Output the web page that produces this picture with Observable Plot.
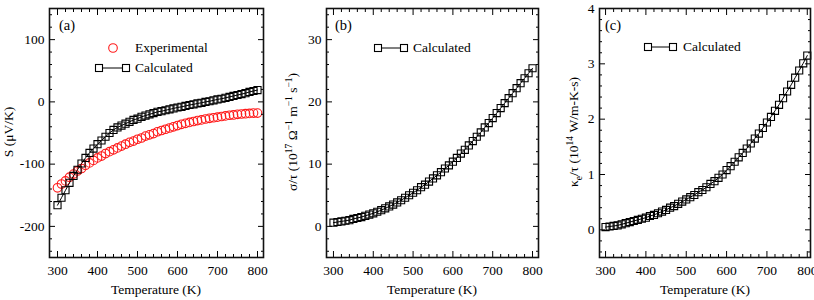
<!DOCTYPE html>
<html><head><meta charset="utf-8">
<script src="https://cdn.jsdelivr.net/npm/d3@7"></script>
<script src="https://cdn.jsdelivr.net/npm/@observablehq/plot@0.6"></script>
<style>
body{margin:0;background:#fff;font-family:'Liberation Serif',serif;color:#000}
#wrap{position:relative;width:814px;height:300px;overflow:hidden;font-family:'Liberation Serif',serif}
.panel{position:absolute;top:0}
.panel text{font-family:'Liberation Serif',serif}
.t{position:absolute;white-space:nowrap;font-size:13.5px;line-height:1;font-family:'Liberation Serif',serif}
.ylab{transform:translate(-50%,-50%) rotate(-90deg)}
.xlab{transform:translate(-50%,-50%)}
.plab{font-size:14.5px;transform:translate(0,-50%)}
.leg{transform:translate(0,-50%)}
sup,sub{font-size:9.5px;line-height:0}
svg.key{position:absolute;overflow:visible}
</style></head>
<body><div id="wrap"></div>
<script>
const temps = [300,310,320,330,340,350,360,370,380,390,400,410,420,430,440,450,460,470,480,490,500,510,520,530,540,550,560,570,580,590,600,610,620,630,640,650,660,670,680,690,700,710,720,730,740,750,760,770,780,790,800];
const seebeckCalc = [-166,-154,-142,-130,-119,-109,-99,-90,-82,-75,-68,-62,-56,-50,-45,-41,-38,-35,-32,-29,-27,-24,-22,-20,-18,-16,-15,-13.5,-12,-10.5,-9,-8,-6.5,-5,-4,-2.5,-1.5,0,1,2.5,4,5,6.5,8,9.5,11,12.5,14,16,17.5,19];
const seebeckExp = [-138,-132,-127,-121,-116,-111,-107,-102,-98,-94,-90,-87,-83,-80,-77,-74,-71,-68,-65,-63,-60,-58,-55,-53,-51,-48,-46,-44,-42,-40,-38,-36,-34.5,-33,-31.5,-30,-29,-27.5,-26.5,-25.5,-24.5,-23.5,-22.5,-21.5,-21,-20,-19.5,-19,-18.5,-18,-18];
const sigmaCalc = [0.6,0.7,0.8,0.9,1.0,1.2,1.35,1.5,1.7,1.9,2.1,2.35,2.6,2.9,3.2,3.5,3.85,4.2,4.6,5.0,5.4,5.8,6.3,6.7,7.2,7.7,8.2,8.7,9.3,9.8,10.4,11.0,11.7,12.3,13.0,13.7,14.4,15.1,15.9,16.6,17.4,18.2,19.0,19.8,20.6,21.4,22.2,23.0,23.8,24.6,25.4];
const kappaCalc = [0.05,0.06,0.07,0.08,0.10,0.12,0.14,0.16,0.18,0.20,0.22,0.25,0.27,0.30,0.33,0.36,0.40,0.43,0.47,0.51,0.55,0.59,0.63,0.68,0.72,0.77,0.83,0.88,0.94,1.00,1.08,1.15,1.23,1.31,1.39,1.47,1.56,1.65,1.74,1.84,1.94,2.04,2.15,2.26,2.38,2.50,2.62,2.75,2.88,3.01,3.15];
const xMajor = [300,400,500,600,700,800];
const xMinor = [320,340,360,380,420,440,460,480,520,540,560,580,620,640,660,680,720,740,760,780];

const wrap = document.getElementById("wrap");
const font = "'Liberation Serif', serif";

function panel({left, width, ml, mr, xDomain, yDomain, yMajor, yMinor, layers}) {
  const ax = [
    Plot.axisX(xMajor, {anchor:"bottom", tickSize:-6, text:null, label:null}),
    Plot.axisX(xMajor, {anchor:"top", tickSize:-6, text:null, label:null}),
    Plot.axisX(xMinor, {anchor:"bottom", tickSize:-3, text:null, label:null}),
    Plot.axisX(xMinor, {anchor:"top", tickSize:-3, text:null, label:null}),
    Plot.axisX(xMajor, {anchor:"bottom", tickSize:0, tickPadding:8, label:null, tickFormat:d=>String(d)}),
    Plot.axisY(yMajor, {anchor:"left", tickSize:-6, text:null, label:null}),
    Plot.axisY(yMajor, {anchor:"right", tickSize:-6, text:null, label:null}),
    Plot.axisY(yMinor, {anchor:"left", tickSize:-3, text:null, label:null}),
    Plot.axisY(yMinor, {anchor:"right", tickSize:-3, text:null, label:null}),
    Plot.axisY(yMajor, {anchor:"left", tickSize:0, tickPadding:5, label:null, tickFormat:d=>String(d)})
  ];
  const svg = Plot.plot({
    width, height:300, marginLeft:ml, marginRight:mr, marginTop:8, marginBottom:43,
    style:{fontFamily:font, fontSize:"13.5px", background:"transparent", color:"#000", overflow:"visible"},
    x:{domain:xDomain}, y:{domain:yDomain},
    marks:[...layers, ...ax, Plot.frame({stroke:"#111", strokeWidth:1.6})]
  });
  svg.classList.add("panel");
  svg.style.left = left + "px";
  wrap.appendChild(svg);
}

const rows = temps.map((t,i)=>({t, sc:seebeckCalc[i], se:seebeckExp[i], sg:sigmaCalc[i], k:kappaCalc[i]}));
const sq = {symbol:"square", r:4, stroke:"#000", fill:"none", strokeWidth:1.1};

panel({left:0, width:270, ml:49, mr:7, xDomain:[280,815], yDomain:[-250,150],
  yMajor:[-200,-100,0,100], yMinor:[-240,-220,-180,-160,-140,-120,-80,-60,-40,-20,20,40,60,80,120,140],
  layers:[
    Plot.dot(rows, {x:"t", y:"se", r:4.3, stroke:"#ff1a1a", fill:"none", strokeWidth:1.1}),
    Plot.line(rows, {x:"t", y:"sc", stroke:"#000", strokeWidth:1}),
    Plot.dot(rows, {x:"t", y:"sc", ...sq})
  ]});
panel({left:275, width:270, ml:51, mr:7, xDomain:[282.5,815], yDomain:[-5,35],
  yMajor:[0,10,20,30], yMinor:[-4,-2,2,4,6,8,12,14,16,18,22,24,26,28,32,34],
  layers:[
    Plot.line(rows, {x:"t", y:"sg", stroke:"#000", strokeWidth:1}),
    Plot.dot(rows, {x:"t", y:"sg", ...sq})
  ]});
panel({left:545, width:269, ml:54, mr:4, xDomain:[285,808], yDomain:[-0.5,4],
  yMajor:[0,1,2,3,4], yMinor:[-0.4,-0.2,0.2,0.4,0.6,0.8,1.2,1.4,1.6,1.8,2.2,2.4,2.6,2.8,3.2,3.4,3.6,3.8],
  layers:[
    Plot.line(rows, {x:"t", y:"k", stroke:"#000", strokeWidth:1}),
    Plot.dot(rows, {x:"t", y:"k", ...sq})
  ]});

function txt(cls, x, y, html){
  const d = document.createElement("div");
  d.className = "t " + cls; d.style.left = x+"px"; d.style.top = y+"px"; d.innerHTML = html;
  wrap.appendChild(d);
}
txt("xlab", 156, 290, "Temperature (K)");
txt("xlab", 432, 290, "Temperature (K)");
txt("xlab", 705, 290, "Temperature (K)");
txt("ylab", 9, 132, "S (μV/K)");
txt("ylab", 293, 132, "σ/τ (10<sup>17</sup> Ω<sup>−1</sup> m<sup>−1</sup> s<sup>−1</sup>)");
txt("ylab", 574, 132, "κ<sub>e</sub>/τ (10<sup>14</sup> W/m-K-s)");
txt("plab", 59, 25, "(a)");
txt("plab", 335, 25, "(b)");
txt("plab", 605, 25, "(c)");
function key(cx1, cx2, cy, circle){
  const ns = "http://www.w3.org/2000/svg";
  const s = document.createElementNS(ns, "svg");
  s.setAttribute("class","key"); s.setAttribute("width","1"); s.setAttribute("height","1");
  s.style.left = "0px"; s.style.top = "0px";
  if (circle) {
    const c = document.createElementNS(ns,"circle");
    c.setAttribute("cx",cx1); c.setAttribute("cy",cy); c.setAttribute("r",4.3);
    c.setAttribute("fill","none"); c.setAttribute("stroke","#ff1a1a"); c.setAttribute("stroke-width",1.1);
    s.appendChild(c);
  } else {
    const l = document.createElementNS(ns,"line");
    l.setAttribute("x1",cx1); l.setAttribute("x2",cx2); l.setAttribute("y1",cy); l.setAttribute("y2",cy);
    l.setAttribute("stroke","#000"); l.setAttribute("stroke-width",1);
    s.appendChild(l);
    for (const cx of [cx1,cx2]) {
      const r = document.createElementNS(ns,"rect");
      r.setAttribute("x",cx-3.5); r.setAttribute("y",cy-3.5); r.setAttribute("width",7); r.setAttribute("height",7);
      r.setAttribute("fill","#fff"); r.setAttribute("stroke","#000"); r.setAttribute("stroke-width",1.1);
      s.appendChild(r);
    }
  }
  wrap.appendChild(s);
}
key(113, 0, 48, true); txt("leg", 135, 48, "Experimental");
key(99, 126, 68, false); txt("leg", 135, 68, "Calculated");
key(378, 404, 48, false); txt("leg", 413, 48, "Calculated");
key(648, 673, 47, false); txt("leg", 683, 47, "Calculated");
</script></body></html>
